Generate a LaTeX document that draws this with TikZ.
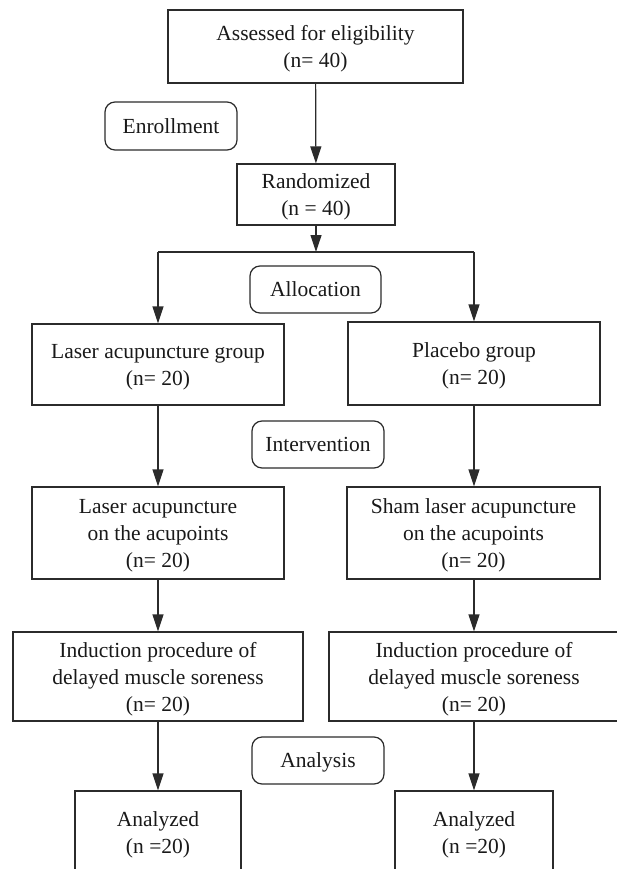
\documentclass[tikz,border=0pt]{standalone}
\usepackage{fontspec}
\setmainfont{Liberation Serif}
\usetikzlibrary{arrows.meta}
\definecolor{ln}{HTML}{2B2B2B}
\tikzset{
  box/.style={draw=ln, line width=1.2pt, rectangle, align=center, inner sep=0pt,
    font=\fontsize{21.5}{27}\selectfont, text=black!90, text depth=0pt},
  tag/.style={box, rounded corners=10pt},
  arr/.style={draw=ln, line width=1.2pt, -{Triangle[length=17pt,width=11pt]}},
  plain/.style={draw=ln, line width=1.2pt}
}
\begin{document}
\begin{tikzpicture}[x=1pt,y=-1pt]
\useasboundingbox (0,0) rectangle (617,869);
\clip (0,0) rectangle (617,869);
\node[box, minimum width=295pt, minimum height=73pt] (top) at (315.5,46.5) {Assessed for eligibility\\(n= 40)};
\node[tag, minimum width=132pt, minimum height=48pt] (enr) at (171,126) {Enrollment};
\node[box, minimum width=158pt, minimum height=61pt] (rand) at (316,194.5) {Randomized\\(n = 40)};
\coordinate (split) at (316,252);
\coordinate (lsplit) at (158,252);
\coordinate (rsplit) at (474,252);
\node[tag, minimum width=131pt, minimum height=47pt] (alloc) at (315.5,289.5) {Allocation};
\node[box, minimum width=252pt, minimum height=81pt] (lg) at (158,364.5) {Laser acupuncture group\\(n= 20)};
\node[box, minimum width=252pt, minimum height=83pt] (pg) at (474,363.5) {Placebo group\\(n= 20)};
\node[tag, minimum width=132pt, minimum height=47pt] (inter) at (318,444.5) {Intervention};
\node[box, minimum width=252pt, minimum height=92pt] (la) at (158,533) {Laser acupuncture\\on the acupoints\\(n= 20)};
\node[box, minimum width=253pt, minimum height=92pt] (sa) at (473.5,533) {Sham laser acupuncture\\on the acupoints\\(n= 20)};
\node[box, minimum width=290pt, minimum height=89pt] (li) at (158,676.5) {Induction procedure of\\delayed muscle soreness\\(n= 20)};
\node[box, minimum width=290pt, minimum height=89pt] (ri) at (474,676.5) {Induction procedure of\\delayed muscle soreness\\(n= 20)};
\node[tag, minimum width=132pt, minimum height=47pt] (anal) at (318,760.5) {Analysis};
\node[box, minimum width=166pt, minimum height=84pt] (lan) at (158,833) {Analyzed\\(n =20)};
\node[box, minimum width=158pt, minimum height=84pt] (ran) at (474,833) {Analyzed\\(n =20)};
\draw[arr] (top) -- (rand);
\draw[arr] (rand) -- (split);
\draw[plain] (lsplit) -- (rsplit);
\draw[arr] (lsplit) -- (lsplit |- lg.north);
\draw[arr] (rsplit) -- (rsplit |- pg.north);
\draw[arr] (lg) -- (la);
\draw[arr] (pg.south -| rsplit) -- (rsplit |- sa.north);
\draw[arr] (la) -- (li);
\draw[arr] (sa.south -| rsplit) -- (ri);
\draw[arr] (li) -- (lan);
\draw[arr] (ri) -- (ran);
\end{tikzpicture}
\end{document}
